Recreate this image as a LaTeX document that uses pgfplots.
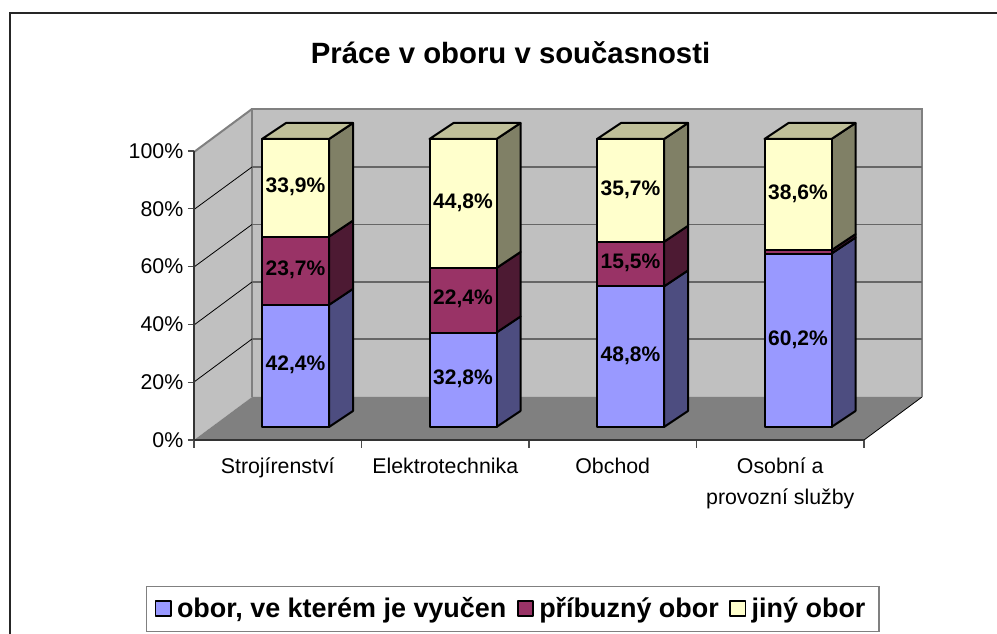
\documentclass[border=0pt]{standalone}
\usepackage{pgfplots}
\pgfplotsset{compat=1.18}
\usepackage{fontspec}
\setmainfont{Liberation Sans}
\definecolor{serA}{HTML}{9999FF}
\definecolor{serB}{HTML}{993366}
\definecolor{serC}{HTML}{FFFFCC}
\definecolor{sideA}{HTML}{4D4D80}
\definecolor{sideB}{HTML}{4D1A33}
\definecolor{sideC}{HTML}{808066}
\definecolor{topC}{HTML}{BFBF99}
\definecolor{wall}{HTML}{C0C0C0}
\definecolor{floorc}{HTML}{808080}
\definecolor{gridc}{HTML}{666666}
\pgfplotsset{
  full/.style={at={(0,0)},anchor=south west,scale only axis,width=747.75pt,height=475.5pt,
    xmin=0,xmax=997,hide axis,clip=false},
  pxaxis/.style={full,ymin=0,ymax=634,y dir=reverse},
  valaxis/.style={full,ymin=-71.875,ymax=148.2639},
  face/.style={draw=black,line width=1.5pt,line join=round},
}
\begin{document}
\begin{tikzpicture}
\path[use as bounding box] (0,0) rectangle (747.75pt,475.5pt);
% background in picture coordinates
\begin{axis}[pxaxis]
\addplot[draw=black!85,line width=1.1pt] coordinates {(10,634) (10,13) (997,13)};
\addplot[fill=wall,draw=none] coordinates {(194,152) (252,109) (252,397) (194,440)} -- cycle;
\addplot[fill=wall,draw=none] coordinates {(252,109) (922,109) (922,397) (252,397)} -- cycle;
\addplot[fill=floorc,draw=none] coordinates {(194,440) (252,397) (922,397) (864,440)} -- cycle;
\addplot[draw=black,line width=0.6pt] coordinates {(864,440) (922,397)};
\addplot[draw=floorc,line width=1.5pt] coordinates {(252,397) (252,109) (922,109) (922,397)};
\addplot[draw=floorc,line width=1.5pt] coordinates {(194,152) (252,109)};
\foreach \yb/\yf in {167/209.5,224.5/267,282/325,339/382}{
  \edef\tmp{\noexpand\addplot[draw=black,line width=0.6pt] coordinates {(194,\yf) (252,\yb)};
  \noexpand\addplot[draw=gridc,line width=1.4pt] coordinates {(252,\yb) (922,\yb)};}
  \tmp
}
\node[font=\fontsize{22}{26}\selectfont\bfseries] at (axis cs:510.5,53) {Práce v oboru v současnosti};
\end{axis}
% value axis, tick labels
\begin{axis}[at={(145.5pt,145.5pt)},anchor=south west,scale only axis,width=502.5pt,height=216.75pt,
  xmin=0,xmax=4,ymin=0,ymax=100,axis x line=bottom,axis y line=left,
  axis line style={-,draw=black!80,line width=1.1pt},
  xtick={0.5,1.5,2.5,3.5},major x tick style={draw=none},
  xticklabels={Strojírenství,Elektrotechnika,Obchod,{Osobní a\\provozní služby}},
  xticklabel style={align=center,font=\fontsize{16}{23}\selectfont,yshift=-5.5pt},
  minor xtick={0,1,2,3,4},
  ytick={0,20,40,60,80,100},
  yticklabel={\pgfmathprintnumber{\tick}\%},
  yticklabel style={font=\fontsize{16}{18}\selectfont,/pgf/number format/assume math mode=true},
  tick align=outside,tick style={draw=black!70,line width=0.8pt},
  major tick length=4.5pt,minor tick length=6pt]
\end{axis}
% bar sides and tops: x in picture pixels, y in percent, back edge 5.56 percent above the front
\begin{axis}[valaxis]
\addplot[face,fill=sideA] coordinates {(329,0) (353,5.56) (353,47.96) (329,42.4)} -- cycle;
\addplot[face,fill=sideB] coordinates {(329,42.4) (353,47.96) (353,71.66) (329,66.1)} -- cycle;
\addplot[face,fill=sideC] coordinates {(329,66.1) (353,71.66) (353,105.56) (329,100)} -- cycle;
\addplot[face,fill=topC] coordinates {(262,100) (329,100) (353,105.56) (286,105.56)} -- cycle;
\addplot[face,fill=sideA] coordinates {(496.5,0) (520.5,5.56) (520.5,38.36) (496.5,32.8)} -- cycle;
\addplot[face,fill=sideB] coordinates {(496.5,32.8) (520.5,38.36) (520.5,60.76) (496.5,55.2)} -- cycle;
\addplot[face,fill=sideC] coordinates {(496.5,55.2) (520.5,60.76) (520.5,105.56) (496.5,100)} -- cycle;
\addplot[face,fill=topC] coordinates {(429.5,100) (496.5,100) (520.5,105.56) (453.5,105.56)} -- cycle;
\addplot[face,fill=sideA] coordinates {(664,0) (688,5.56) (688,54.36) (664,48.8)} -- cycle;
\addplot[face,fill=sideB] coordinates {(664,48.8) (688,54.36) (688,69.86) (664,64.3)} -- cycle;
\addplot[face,fill=sideC] coordinates {(664,64.3) (688,69.86) (688,105.56) (664,100)} -- cycle;
\addplot[face,fill=topC] coordinates {(597,100) (664,100) (688,105.56) (621,105.56)} -- cycle;
\addplot[face,fill=sideA] coordinates {(831.5,0) (855.5,5.56) (855.5,65.76) (831.5,60.2)} -- cycle;
\addplot[face,fill=sideB] coordinates {(831.5,60.2) (855.5,65.76) (855.5,66.96) (831.5,61.4)} -- cycle;
\addplot[face,fill=sideC] coordinates {(831.5,61.4) (855.5,66.96) (855.5,105.56) (831.5,100)} -- cycle;
\addplot[face,fill=topC] coordinates {(764.5,100) (831.5,100) (855.5,105.56) (788.5,105.56)} -- cycle;
\end{axis}
% bar fronts
\begin{axis}[valaxis,ybar stacked,bar width=67,
  legend columns=3,
  legend style={at={(146/997,2/634)},anchor=south west,draw=floorc,line width=1.1pt,fill=white,
    font=\fontsize{20.2}{24}\selectfont\bfseries,inner xsep=6pt,inner ysep=6.5pt,
    nodes={inner xsep=4pt},
    /tikz/column 2/.style={column sep=4pt},
    /tikz/column 4/.style={column sep=4pt}},
  legend image code/.code={\draw[#1,line width=1.2pt] (0pt,-5.5pt) rectangle (11.5pt,6pt);},
  ]
\addplot[face,fill=serA] coordinates {(295.5,42.4) (463,32.8) (630.5,48.8) (798,60.2)};
\addplot[face,fill=serB] coordinates {(295.5,23.7) (463,22.4) (630.5,15.5) (798,1.2)};
\addplot[face,fill=serC] coordinates {(295.5,33.9) (463,44.8) (630.5,35.7) (798,38.6)};
\legend{{obor, ve kterém je vyučen},příbuzný obor,jiný obor}
\end{axis}
% data labels, at the middle of each segment
\begin{axis}[valaxis,point meta=explicit symbolic,nodes near coords,
  every node near coord/.append style={anchor=center,font=\fontsize{15.75}{18}\selectfont\bfseries,text=black,inner sep=0pt,yshift=0.75pt}]
\addplot[draw=none,mark=none] coordinates {(295.5,21.2)[42,4\%] (463,16.4)[32,8\%] (630.5,24.4)[48,8\%] (798,30.1)[60,2\%]};
\addplot[draw=none,mark=none] coordinates {(295.5,54.25)[23,7\%] (463,44)[22,4\%] (630.5,56.55)[15,5\%]};
\addplot[draw=none,mark=none] coordinates {(295.5,83.05)[33,9\%] (463,77.6)[44,8\%] (630.5,82.15)[35,7\%] (798,80.7)[38,6\%]};
\end{axis}
\end{tikzpicture}
\end{document}
